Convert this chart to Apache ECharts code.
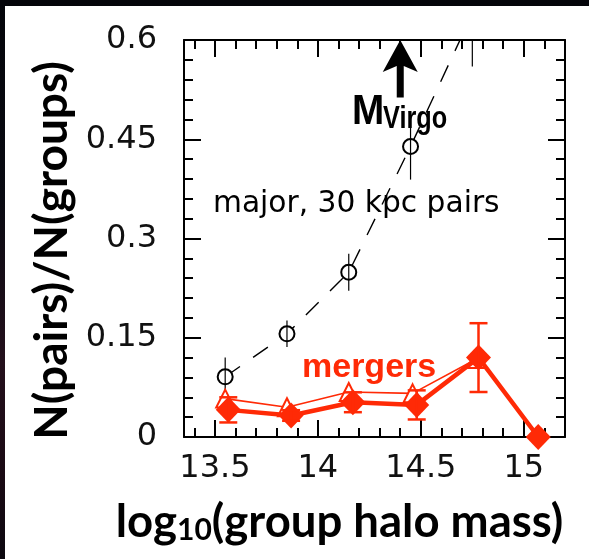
<!DOCTYPE html>
<html>
<head>
<meta charset="utf-8">
<script src="https://cdn.jsdelivr.net/npm/echarts@6/dist/echarts.min.js"></script>
<style>
  html, body { margin: 0; padding: 0; width: 589px; height: 559px; overflow: hidden; }
  body { background: linear-gradient(to bottom, #04050a 0%, #090a12 35%, #24101c 65%, #1a0a14 85%, #0c0810 100%); position: relative; }
  #chart { position: absolute; left: 5px; top: 6px; width: 584px; height: 553px; background: #ffffff; }
</style>
</head>
<body>
<div id="chart"></div>
<script>
// Major (30 kpc) pair fraction per group halo mass bin
const massMajor = [13.55, 13.85, 14.15, 14.45, 14.75];
const fracMajor = [0.091, 0.156, 0.249, 0.439, 0.64];
const errMajor  = [0.029, 0.020, 0.028, 0.050, 0.080];

// Merger fraction (filled diamonds, thick line)
const massMerger = [13.565, 13.87, 14.17, 14.48, 14.78, 15.07];
const fracMerger = [0.041, 0.0325, 0.0525, 0.0485, 0.120, 0.0];
const errMerger  = [0.019, 0.008, 0.015, 0.022, 0.052, 0];

// Merger fraction, alternative selection (open triangles, thin line)
const massMergerAlt = [13.55, 13.85, 14.15, 14.46, 14.77];
const fracMergerAlt = [0.058, 0.045, 0.068, 0.066, 0.118];

// Virgo cluster mass marker: x, arrow tail, arrow tip
const virgoMarker = [[14.4, 0.513, 0.6]];

// Tick labels
const xTickLabels = ['13.5', '14', '14.5', '15'];
const yTickLabels = ['0', '0.15', '0.3', '0.45', '0.6'];

const RED = '#ff2a06';
const X_MIN = 13.35, X_MAX = 15.2;
const Y_MIN = 0, Y_MAX = 0.6;

const pairs = (xs, ys) => xs.map((x, i) => [x, ys[i]]);

// Vertical error bars, with optional caps
function errorBars(xs, ys, errs, color, width, capHalf, z) {
  const data = [];
  xs.forEach((x, i) => { if (errs[i] > 0) data.push([x, ys[i] - errs[i], ys[i] + errs[i]]); });
  return {
    type: 'custom',
    clip: true,
    z: z,
    silent: true,
    data: data,
    renderItem(params, api) {
      const lo = api.coord([api.value(0), api.value(1)]);
      const hi = api.coord([api.value(0), api.value(2)]);
      const st = { stroke: color, lineWidth: width };
      const children = [{ type: 'line', shape: { x1: lo[0], y1: lo[1], x2: hi[0], y2: hi[1] }, style: st }];
      if (capHalf > 0) {
        children.push({ type: 'line', shape: { x1: lo[0] - capHalf, y1: lo[1], x2: lo[0] + capHalf, y2: lo[1] }, style: st });
        children.push({ type: 'line', shape: { x1: hi[0] - capHalf, y1: hi[1], x2: hi[0] + capHalf, y2: hi[1] }, style: st });
      }
      return { type: 'group', children: children };
    }
  };
}

const tickFont = { fontFamily: 'DejaVu Sans', fontSize: 32, color: '#111' };
const frameLine = { show: true, onZero: false, lineStyle: { color: '#000', width: 2 } };

// Each horizontal side gets a labelled major axis (0.5 steps) and a minor-tick axis (0.1 steps)
function xAxisPair(position, withLabels) {
  const major = {
    type: 'value', position: position, offset: 0, min: X_MIN, max: X_MAX, splitNumber: 4,
    axisLine: frameLine,
    axisTick: { show: true, inside: true, length: 17, lineStyle: { color: '#000', width: 2 } },
    axisLabel: withLabels ? Object.assign({
      margin: 16,
      formatter: v => { const s = String(+(+v).toFixed(2)); return xTickLabels.includes(s) ? s : ''; }
    }, tickFont) : { show: false },
    splitLine: { show: false }
  };
  const minor = {
    type: 'value', position: position, offset: 0, min: X_MIN, max: X_MAX, splitNumber: 18,
    axisLine: { show: false, onZero: false },
    axisTick: { show: true, inside: true, length: 9, lineStyle: { color: '#000', width: 2 } },
    axisLabel: { show: false },
    splitLine: { show: false }
  };
  if (withLabels) {
    major.name = '{a|log}{b|10}{a|(group halo mass)}';
    major.nameLocation = 'middle';
    major.nameGap = 62;
    major.nameTextStyle = {
      padding: [0, 70, 0, 0],
      rich: {
        a: { fontFamily: 'Lato', fontWeight: 'bold', fontSize: 45.5, color: '#000', verticalAlign: 'bottom' },
        b: { fontFamily: 'Lato', fontWeight: 'bold', fontSize: 30, color: '#000', verticalAlign: 'bottom' }
      }
    };
  }
  return [major, minor];
}

function yAxisSide(position, withLabels) {
  const ax = {
    type: 'value', position: position, offset: 0, min: Y_MIN, max: Y_MAX, interval: 0.15,
    axisLine: frameLine,
    axisTick: { show: true, inside: true, length: 17, lineStyle: { color: '#000', width: 2 } },
    minorTick: { show: true, splitNumber: 5, length: 9, lineStyle: { color: '#000', width: 2 } },
    axisLabel: withLabels ? Object.assign({
      margin: 27,
      formatter: v => { const s = String(+(+v).toFixed(3)); return yTickLabels.includes(s) ? s : ''; }
    }, tickFont) : { show: false },
    splitLine: { show: false },
    minorSplitLine: { show: false }
  };
  if (withLabels) {
    ax.name = 'N(pairs)/N(groups)';
    ax.nameLocation = 'middle';
    ax.nameRotate = 90;
    ax.nameGap = 103;
    ax.nameTextStyle = { fontFamily: 'Lato', fontWeight: 'bold', fontSize: 46, color: '#000', padding: [0, 24, 0, 0] };
  }
  return ax;
}

const chart = echarts.init(document.getElementById('chart'), null, { renderer: 'canvas' });

chart.setOption({
  animation: false,
  backgroundColor: '#ffffff',
  grid: { left: 179, right: 24, top: 34, bottom: 122, containLabel: false },
  xAxis: [].concat(xAxisPair('bottom', true), xAxisPair('top', false)),
  yAxis: [yAxisSide('left', true), yAxisSide('right', false)],
  graphic: [
    {
      type: 'text', x: 208, y: 198, z: 10,
      style: { text: 'major, 30 kpc pairs', fill: '#000', fontFamily: 'DejaVu Sans', fontSize: 29.7, align: 'left', verticalAlign: 'middle' }
    },
    {
      type: 'text', x: 297, y: 362, z: 10,
      style: { text: 'mergers', fill: RED, fontFamily: 'Liberation Sans', fontWeight: 'bold', fontSize: 34, align: 'left', verticalAlign: 'middle' }
    },
    {
      type: 'text', x: 347, y: 106, z: 10, scaleX: 0.9,
      style: { text: 'M', fill: '#000', fontFamily: 'Liberation Sans', fontWeight: 'bold', fontSize: 43, align: 'left', verticalAlign: 'middle' }
    },
    {
      type: 'text', x: 378, y: 113, z: 10, scaleX: 0.79,
      style: { text: 'Virgo', fill: '#000', fontFamily: 'Liberation Sans', fontWeight: 'bold', fontSize: 32, align: 'left', verticalAlign: 'middle' }
    }
  ],
  series: [
    {
      type: 'line', name: 'major, 30 kpc pairs',
      data: pairs(massMajor, fracMajor),
      symbol: 'emptyCircle', symbolSize: 15,
      itemStyle: { color: '#000', borderWidth: 1.3 },
      lineStyle: { color: '#000', width: 1.4, type: [18, 16] },
      clip: true, z: 3
    },
    errorBars(massMajor, fracMajor, errMajor, '#000', 1.2, 0, 4),
    {
      type: 'line', name: 'mergers (alt)',
      data: pairs(massMergerAlt, fracMergerAlt),
      symbol: 'emptyTriangle', symbolSize: 18,
      itemStyle: { color: RED, borderWidth: 1.6 },
      lineStyle: { color: RED, width: 1.6 },
      clip: true, z: 5
    },
    {
      type: 'line', name: 'mergers',
      data: pairs(massMerger, fracMerger),
      symbol: 'diamond', symbolSize: [25, 26],
      itemStyle: { color: RED },
      lineStyle: { color: RED, width: 4.5 },
      clip: false, z: 6
    },
    errorBars(massMerger, fracMerger, errMerger, RED, 2.5, 9, 7),
    {
      type: 'custom', name: 'Virgo', clip: false, z: 8, silent: true,
      data: virgoMarker,
      renderItem(params, api) {
        const tail = api.coord([api.value(0), api.value(1)]);
        const tip = api.coord([api.value(0), api.value(2)]);
        const x = tip[0], ty = tip[1], by = tail[1];
        const hw = 17.5, hh = 32, sw = 3.5, notch = 26;
        return {
          type: 'polygon',
          shape: { points: [[x, ty], [x + hw, ty + hh], [x + sw, ty + notch], [x + sw, by], [x - sw, by], [x - sw, ty + notch], [x - hw, ty + hh]] },
          style: { fill: '#000' }
        };
      }
    }
  ]
});
</script>
</body>
</html>
